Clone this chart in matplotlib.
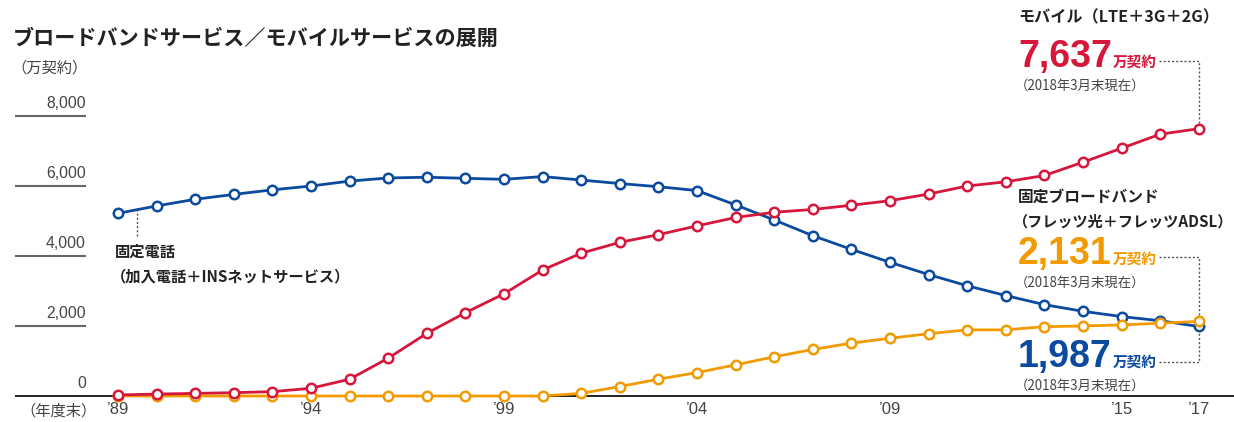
import matplotlib
matplotlib.use('Agg')
import matplotlib.pyplot as plt

plt.rcParams['font.family'] = ['Noto Sans CJK JP', 'DejaVu Sans']

# data (万契約, fiscal year end)
years = list(range(1989, 2018))
fixed_phone = [5220, 5430, 5620, 5760, 5890, 6000, 6140, 6230, 6250, 6220,
               6190, 6270, 6170, 6070, 5980, 5870, 5460, 5030, 4580, 4190,
               3820, 3470, 3150, 2870, 2610, 2420, 2270, 2150, 1987]
mobile = [30, 55, 75, 95, 125, 220, 480, 1080, 1790, 2380,
          2920, 3600, 4080, 4390, 4610, 4860, 5100, 5250, 5330, 5450,
          5580, 5770, 6000, 6120, 6300, 6680, 7080, 7480, 7637]
broadband = [0, 0, 0, 0, 0, 0, 0, 0, 0, 0,
             0, 0, 75, 270, 480, 670, 890, 1120, 1330, 1510,
             1650, 1780, 1890, 1890, 1980, 2000, 2030, 2080, 2131]
y_ticks = [0, 2000, 4000, 6000, 8000]
x_tick_years = [1989, 1994, 1999, 2004, 2009, 2015, 2017]

BLUE = '#0b4a9e'
RED = '#d7163b'
ORANGE = '#f39a00'
GRAY = '#444444'

W, H = 1234, 422
fig = plt.figure(figsize=(W / 100, H / 100), dpi=100)
ax = fig.add_axes([0, 0, 1, 1])
# layout: '89 at x=118px, 38.6px per year; zero at y=396px, 0.035px per unit
px_year, x89 = 38.6, 118
px_unit, y0 = 0.035, 396
ax.set_xlim(1989 - x89 / px_year, 1989 + (W - x89) / px_year)
ax.set_ylim(-(H - y0) / px_unit, y0 / px_unit)
ax.axis('off')


def fx(px):
    return px / W


def fy(py):
    return 1 - py / H


def to_data(px, py):
    return ax.transData.inverted().transform((px, H - py))


# y grid stubs + labels
ytr = ax.get_yaxis_transform()
for v in y_ticks:
    if v == 0:
        ax.hlines(v, fx(15), 1, transform=ytr, color='#111111', lw=1.3, zorder=1)
    else:
        ax.hlines(v, fx(15), fx(86), transform=ytr, color='#666666', lw=1.5, zorder=1)
    ax.annotate(f'{v:,}', xy=(fx(86), v), xycoords=ytr, xytext=(0, 5),
                textcoords='offset pixels', ha='right', va='bottom',
                fontsize=11.3, color=GRAY, family=['Liberation Sans'])

# series
for vals, col, z in [(fixed_phone, BLUE, 3), (broadband, ORANGE, 4), (mobile, RED, 5)]:
    ax.plot(years, vals, color=col, lw=2.0, marker='o', ms=6.8, mew=1.8,
            mfc='white', mec=col, zorder=z, clip_on=False)

# x tick labels
for yr in x_tick_years:
    ax.annotate(f'\u2019{yr % 100:02d}', xy=(yr, 0), xycoords='data',
                xytext=(0, -6), textcoords='offset pixels', ha='center', va='top',
                fontsize=12, color=GRAY, family=['Liberation Sans'])
fig.text(fx(20), fy(411), '（年度末）', fontsize=11, color=GRAY, va='center')

# titles
fig.text(fx(13), fy(38), 'ブロードバンドサービス／モバイルサービスの展開',
         fontsize=15.2, weight='bold', color='#222222', va='center')
fig.text(fx(11), fy(68), '（万契約）', fontsize=11, color=GRAY, va='center')

# fixed phone label
px0, py0 = to_data(137, 236)
ax.plot([px0, px0], [py0, fixed_phone[0] + 0.5 * (fixed_phone[1] - fixed_phone[0])],
        color='#555555', lw=1, ls=(0, (1.5, 1.5)), zorder=2)
fig.text(fx(115), fy(252), '固定電話', fontsize=11, weight='bold', color='#222222', va='center')
fig.text(fx(111), fy(276), '（加入電話＋INSネットサービス）', fontsize=11,
         weight='bold', color='#222222', va='center')


def big_label(py_num, value, color):
    fig.text(fx(1018), fy(py_num), f'{value:,}', fontsize=27, weight='bold',
             color=color, va='baseline', family=['Liberation Sans'])
    fig.text(fx(1113), fy(py_num), '万契約', fontsize=10.5, weight='bold',
             color=color, va='baseline')
    fig.text(fx(1015), fy(py_num + 19), '（2018年3月末現在）', fontsize=9.6,
             color=GRAY, va='center')


def connector(py, value):
    xa, ya = to_data(1159, py)
    ax.plot([xa, years[-1], years[-1]], [ya, ya, value], color='#555555',
            lw=1, ls=(0, (1.5, 1.5)), zorder=2, clip_on=False)


fig.text(fx(1018), fy(17), 'モバイル（LTE＋3G＋2G）', fontsize=11.6, weight='bold',
         color='#222222', va='center')
big_label(67, mobile[-1], RED)
connector(61, mobile[-1])

fig.text(fx(1018), fy(197), '固定ブロードバンド', fontsize=11.3, weight='bold',
         color='#222222', va='center')
fig.text(fx(1013), fy(221), '（フレッツ光＋フレッツADSL）', fontsize=10.9, weight='bold',
         color='#222222', va='center')
big_label(264, broadband[-1], ORANGE)
connector(257, broadband[-1])

big_label(367, fixed_phone[-1], BLUE)
connector(362, fixed_phone[-1])

fig.savefig('out.png', dpi=100)
